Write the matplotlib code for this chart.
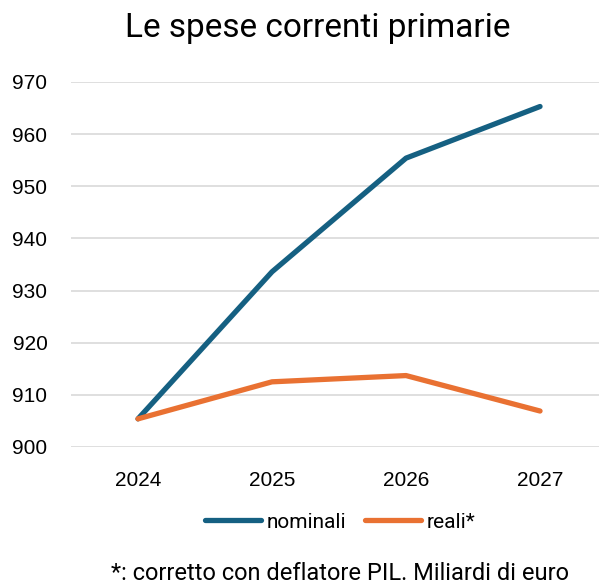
import matplotlib
matplotlib.use("Agg")
import matplotlib.pyplot as plt
from matplotlib.lines import Line2D

years = ["2024", "2025", "2026", "2027"]
nominali = [905.4, 933.6, 955.4, 965.3]
reali = [905.4, 912.5, 913.7, 906.9]
yticks = [900, 910, 920, 930, 940, 950, 960, 970]

blue = "#156082"
orange = "#E97132"

fig = plt.figure(figsize=(5.99, 5.83), dpi=100)
ax = fig.add_axes([71 / 599, 136 / 583, 528 / 599, 365 / 583])

x = range(len(years))
ax.plot(x, nominali, color=blue, lw=3.8, solid_capstyle="round", solid_joinstyle="round", zorder=3)
ax.plot(x, reali, color=orange, lw=3.8, solid_capstyle="round", solid_joinstyle="round", zorder=3)

ax.set_xlim(-0.5, 3.44)
ax.set_ylim(900, 970)
ax.set_yticks(yticks)
ax.set_xticks(list(x))
ax.set_xticklabels(years)
ax.grid(axis="y", color="#d9d9d9", lw=1.2)
ax.set_axisbelow(True)
for s in ax.spines.values():
    s.set_visible(False)
ax.tick_params(length=0, labelsize=15, labelcolor="#000000")
ax.tick_params(axis="y", pad=17)
ax.tick_params(axis="x", pad=17)
for lab in ax.get_xticklabels() + ax.get_yticklabels():
    lab.set_fontfamily("Liberation Sans")

fig.text(318 / 599, 1 - 28 / 583, "Le spese correnti primarie", ha="center", va="center",
         fontsize=24, fontfamily="Roboto")

handles = [Line2D([], [], color=blue, lw=3.8, solid_capstyle="round"),
           Line2D([], [], color=orange, lw=3.8, solid_capstyle="round")]
fig.legend(handles, ["nominali", "reali*"], loc="center", bbox_to_anchor=(340 / 599, 1 - 522 / 583),
           ncol=2, frameon=False, prop={"family": "Roboto", "size": 15},
           handlelength=2.7, handletextpad=0.25, columnspacing=0.9)

fig.text(340 / 599, 1 - 573 / 583, "*: corretto con deflatore PIL. Miliardi di euro", ha="center",
         va="center", fontsize=17, fontfamily="Roboto")

fig.savefig("out.png", dpi=100)
